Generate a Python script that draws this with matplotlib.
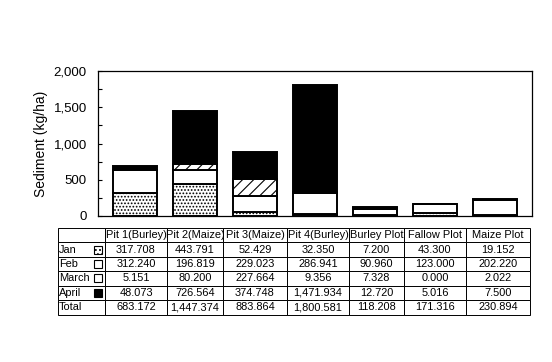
import numpy as np
import matplotlib
matplotlib.use("Agg")
import matplotlib.pyplot as plt
from matplotlib.patches import Rectangle
from matplotlib.ticker import FuncFormatter, MultipleLocator
from matplotlib.transforms import IdentityTransform

plt.rcParams['font.family'] = ['Liberation Sans', 'DejaVu Sans']
plt.rcParams['hatch.linewidth'] = 0.8

# data
sites = ['Pit 1(Burley)', 'Pit 2(Maize)', 'Pit 3(Maize)', 'Pit 4(Burley)',
         'Burley Plot', 'Fallow Plot', 'Maize Plot']
months = ['Jan', 'Feb', 'March', 'April']
jan = [317.708, 443.791, 52.429, 32.350, 7.200, 43.300, 19.152]
feb = [312.240, 196.819, 229.023, 286.941, 90.960, 123.000, 202.220]
march = [5.151, 80.200, 227.664, 9.356, 7.328, 0.000, 2.022]
april = [48.073, 726.564, 374.748, 1471.934, 12.720, 5.016, 7.500]

series = [jan, feb, march, april]
fills = ['white', 'white', 'white', 'black']
hatches = ['.....', None, '///', None]
swatch_hatches = ['....', None, '/', None]

fig = plt.figure(figsize=(5.52, 3.62), dpi=100)
ax = fig.add_axes([98 / 552, 1 - 216 / 362, 434 / 552, 145 / 362])

x = np.arange(len(sites))
bottom = np.zeros(len(sites))
for vals, fc, h in zip(series, fills, hatches):
    ax.bar(x, vals, 0.73, bottom=bottom, color=fc, edgecolor='black',
           linewidth=1.4, hatch=h)
    bottom += np.array(vals)

ax.set_xlim(-0.61, 6.61)
ax.set_ylim(0, 2000)
ax.set_xticks([])
ax.yaxis.set_major_locator(MultipleLocator(500))
ax.yaxis.set_minor_locator(MultipleLocator(250))
ax.yaxis.set_major_formatter(FuncFormatter(lambda v, p: f'{v:,.0f}'))
ax.tick_params(axis='y', which='both', direction='in', length=3, width=0.8,
               labelsize=9.5, pad=8)
for s in ax.spines.values():
    s.set_linewidth(0.9)
ax.set_ylabel('Sediment (kg/ha)', fontsize=10, labelpad=4)

# data table under the bars
totals = [sum(v) for v in zip(*series)]
rows = [[''] + sites]
for name, vals in zip(months, series):
    rows.append([name] + [f'{v:,.3f}' for v in vals])
rows.append(['Total'] + [f'{v:,.3f}' for v in totals])

col_px = [47, 62, 56, 64, 62, 55, 62, 64]
tot_px = sum(col_px)
tbl = ax.table(cellText=rows, cellLoc='center',
               colWidths=[c / tot_px for c in col_px],
               bbox=[(58 - 98) / 434, -98.5 / 145, tot_px / 434, 86.5 / 145])
tbl.auto_set_font_size(False)
tbl.set_fontsize(7.9)
for (r, c), cell in tbl.get_celld().items():
    cell.set_linewidth(0.7)
    cell.set_edgecolor('black')
    cell.PAD = 0.02
    if c == 0:
        cell.get_text().set_horizontalalignment('left')
    cell.set_clip_on(False)

# legend swatches inside the row label cells
fig.canvas.draw()
renderer = fig.canvas.get_renderer()
for i in range(len(months)):
    bb = tbl[i + 1, 0].get_window_extent(renderer)
    size = 8
    x0 = bb.x1 - size - 3
    y0 = (bb.y0 + bb.y1) / 2 - size / 2
    fig.patches.append(Rectangle((x0, y0), size, size, transform=IdentityTransform(),
                                 facecolor=fills[i], edgecolor='black', linewidth=0.8,
                                 hatch=swatch_hatches[i], figure=fig))

fig.savefig('out.png', dpi=100)
